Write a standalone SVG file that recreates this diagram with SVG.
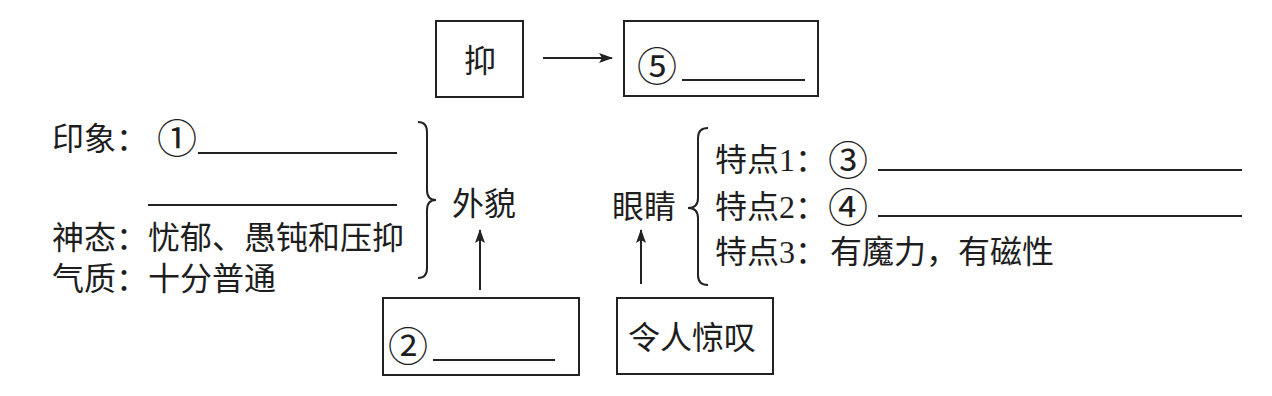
<svg xmlns="http://www.w3.org/2000/svg" width="1272" height="396" viewBox="0 0 1272 396">
<style>
text{font-family:"Liberation Serif","Noto Sans CJK SC",serif;font-size:32px;fill:#1e1e1e}
.cn{font-size:40px}
.box{fill:none;stroke:#222;stroke-width:2}
.ln{stroke:#222;stroke-width:2;fill:none}
.con{stroke:#222;stroke-width:2;fill:none}
</style>
<defs>
<marker id="ah" viewBox="0 0 14 10" refX="13" refY="5" markerWidth="14" markerHeight="10" markerUnits="userSpaceOnUse" orient="auto">
<path d="M0,0 L14,5 L0,10 L3,5 Z" fill="#222"/>
</marker>
</defs>
<rect width="1272" height="396" fill="#fff"/>
<g id="n-yi">
<rect class="box" x="436" y="21" width="87" height="76"/>
<text x="464" y="72">抑</text>
</g>
<g id="n-5">
<rect class="box" x="624" y="21" width="194" height="75"/>
<text class="cn" x="637" y="81">⑤</text>
<line class="ln" x1="682" y1="80" x2="805" y2="80"/>
</g>
<g id="n-appearance-list">
<text x="52" y="150">印象：</text>
<text class="cn" x="157" y="153">①</text>
<line class="ln" x1="198" y1="153" x2="397" y2="153"/>
<line class="ln" x1="148" y1="205" x2="397" y2="205"/>
<text x="52" y="249">神态：忧郁、愚钝和压抑</text>
<text x="52" y="290">气质：十分普通</text>
<path class="ln" d="M418,122 Q427,122 427,132 L427,190 Q427,200 436,200 Q427,200 427,210 L427,268 Q427,278 418,278"/>
</g>
<g id="n-waimao">
<text x="452" y="215">外貌</text>
</g>
<g id="n-2">
<rect class="box" x="383" y="298" width="196" height="77"/>
<text class="cn" x="388" y="361">②</text>
<line class="ln" x1="433" y1="360" x2="555" y2="360"/>
</g>
<g id="n-yanjing">
<text x="612" y="218">眼睛</text>
</g>
<g id="n-eyes-list">
<path class="ln" d="M708,128 Q698,128 698,138 L698,198 Q698,208 688,208 Q698,208 698,218 L698,275 Q698,285 708,285"/>
<text x="715" y="171">特点1：</text>
<text class="cn" x="828" y="175">③</text>
<line class="ln" x1="878" y1="170" x2="1242" y2="170"/>
<text x="715" y="218">特点2：</text>
<text class="cn" x="828" y="222">④</text>
<line class="ln" x1="878" y1="216" x2="1242" y2="216"/>
<text x="715" y="263">特点3：<tspan x="830">有魔力，有磁性</tspan></text>
</g>
<g id="n-jingtan">
<rect class="box" x="617" y="298" width="156" height="76"/>
<text x="628" y="349">令人惊叹</text>
</g>
<g id="connectors">
<line class="con" x1="543" y1="58" x2="612" y2="58" marker-end="url(#ah)"/>
<line class="con" x1="480" y1="290" x2="480" y2="230" marker-end="url(#ah)"/>
<line class="con" x1="641" y1="284" x2="641" y2="230" marker-end="url(#ah)"/>
</g>
</svg>
